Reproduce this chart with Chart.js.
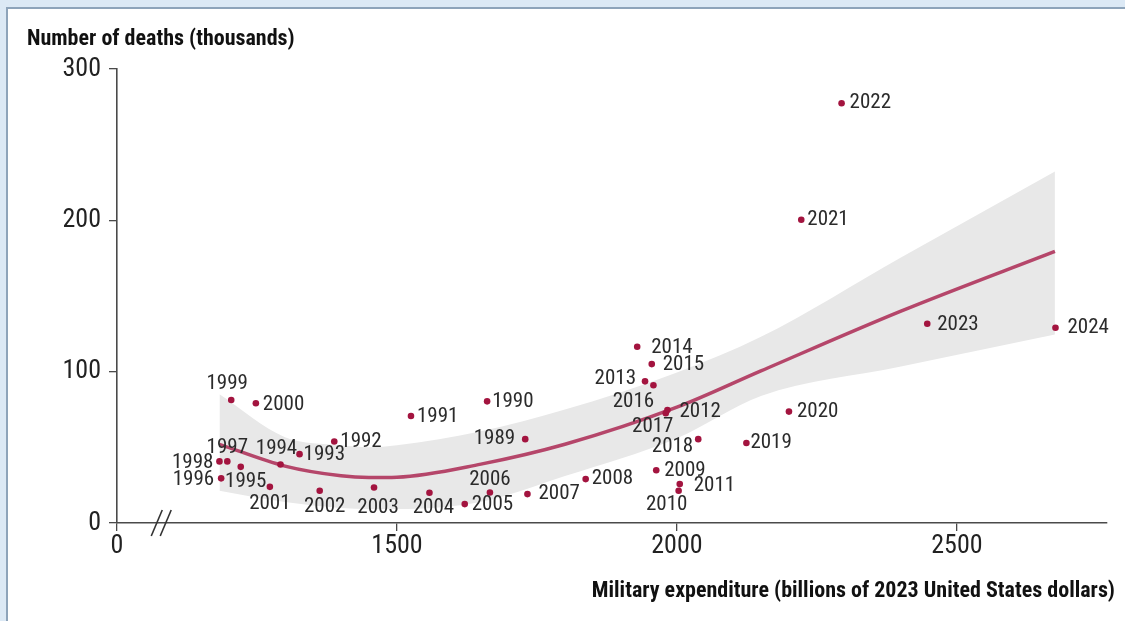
<!DOCTYPE html>
<html>
<head>
<meta charset="utf-8">
<title>Military expenditure and deaths</title>
<script src="https://cdn.jsdelivr.net/npm/chart.js@4.4.1/dist/chart.umd.min.js"></script>
<style>
  html, body { margin: 0; padding: 0; }
  body {
    width: 1125px; height: 621px; position: relative; overflow: hidden;
    background: #dce9f5;
    font-family: "Liberation Sans Narrow", "Arial Narrow", "Roboto Condensed", Roboto, sans-serif;
  }
  #panel {
    position: absolute; left: 6px; top: 7px; right: -10px; bottom: -10px;
    background: #fff; border: 2px solid #8ea4ba;
  }
  #chart { position: absolute; left: 0; top: 0; }
  .axis-title {
    position: absolute; font-weight: bold; font-size: 22px; color: #111;
    white-space: nowrap; line-height: 1;
  }
  #ytitle { left: 27px; top: 27px; }
  #xtitle { right: 10px; top: 579px; }
</style>
</head>
<body>
<div id="panel"></div>
<canvas id="chart" width="1125" height="621"></canvas>
<div id="ytitle" class="axis-title">Number of deaths (thousands)</div>
<div id="xtitle" class="axis-title">Military expenditure (billions of 2023 United States dollars)</div>

<script>
// Yearly observations: spending on the x axis, deaths on the y axis
const years = [1989, 1990, 1991, 1992, 1993, 1994, 1995, 1996, 1997, 1998, 1999, 2000,
  2001, 2002, 2003, 2004, 2005, 2006, 2007, 2008, 2009, 2010, 2011, 2012,
  2013, 2014, 2015, 2016, 2017, 2018, 2019, 2020, 2021, 2022, 2023, 2024];
const spending = [1729, 1661, 1525, 1388, 1326, 1292, 1221, 1186, 1197, 1183, 1204, 1248,
  1273, 1362, 1459, 1558, 1621, 1666, 1733, 1837, 1963, 2003, 2005, 1983,
  1943, 1929, 1955, 1958, 1980, 2038, 2124, 2200, 2222, 2294, 2447, 2676];
const deaths = [55.4, 80.4, 70.7, 53.9, 45.5, 38.7, 37.1, 29.5, 40.7, 40.7, 81.3, 79.1,
  23.9, 21.3, 23.5, 20.0, 12.5, 20.2, 19.1, 29.0, 34.9, 21.3, 25.7, 74.7,
  93.6, 116.5, 105.0, 91.0, 72.5, 55.4, 52.9, 73.6, 200.4, 277.4, 131.7, 129.0];

// Fitted trend and its confidence band
const trendX   = [1183, 1300, 1400, 1450, 1500, 1650, 1800, 2000, 2150, 2400, 2675];
const trendY   = [52.0, 37.6, 31.2, 30.1, 30.3, 38.9, 52.0, 76.5, 100.5, 140.0, 179.5];
const bandHigh = [85.0, 56.7, 51.4, 50.1, 51.4, 60.7, 75.0, 99.5, 123.0, 175.5, 232.3];
const bandLow  = [21.3, 13.8, 9.9, 9.2, 9.2, 14.0, 31.0, 56.0, 83.9, 103.4, 124.6];

// Axis ticks (the x axis is broken: its first tick stands for zero)
const xTickValues = [1000, 1500, 2000, 2500];
const xTickLabels = ['0', '1500', '2000', '2500'];
const yTickValues = [0, 100, 200, 300];

const narrow = '"Liberation Sans Narrow", "Arial Narrow", "Roboto Condensed", Roboto, sans-serif';
const axisColor = '#4a4a4a';

// where each year label sits relative to its dot: [align, dx, dy]
const labelPlacement = {
  1989: ['r', -10, 0], 1990: ['l', 5, 0], 1991: ['l', 6, 1], 1992: ['l', 6, 0],
  1993: ['l', 4, 1], 1994: ['c', -4, -16], 1995: ['c', 5, 15], 1996: ['r', -7, 1],
  1997: ['c', 0, -14], 1998: ['r', -6, 1], 1999: ['c', -4, -16], 2000: ['l', 7, 1],
  2001: ['c', 0, 17], 2002: ['c', 5, 16], 2003: ['c', 4, 20], 2004: ['c', 4, 15],
  2005: ['l', 7, 1], 2006: ['c', 0, -13], 2007: ['l', 11, 0], 2008: ['l', 6, 0],
  2009: ['l', 8, 1], 2010: ['c', -12, 14], 2011: ['l', 14, 2], 2012: ['l', 12, 2],
  2013: ['r', -9, -3], 2014: ['l', 14, 1], 2015: ['l', 11, 1], 2016: ['c', -20, 16],
  2017: ['c', -13, 13], 2018: ['r', -5, 8], 2019: ['l', 4, 0], 2020: ['l', 8, 0],
  2021: ['l', 6, 0], 2022: ['l', 8, 0], 2023: ['l', 10, 1], 2024: ['l', 12, 0]
};

const toPoints = (xs, ys) => xs.map((x, i) => ({ x: x, y: ys[i] }));

// Year text next to every dot
const yearLabels = {
  id: 'yearLabels',
  afterDatasetsDraw(chart) {
    const meta = chart.getDatasetMeta(3);
    const ctx = chart.ctx;
    ctx.save();
    ctx.font = '21px ' + narrow;
    ctx.fillStyle = '#2b2b2b';
    ctx.textBaseline = 'middle';
    meta.data.forEach((pt, i) => {
      const [align, dx, dy] = labelPlacement[years[i]] || ['l', 6, 0];
      ctx.textAlign = align === 'l' ? 'left' : align === 'r' ? 'right' : 'center';
      ctx.fillText(String(years[i]), pt.x + dx, pt.y + dy);
    });
    ctx.restore();
  }
};

// Two slashes across the x axis marking the gap between 0 and 1000
const axisBreak = {
  id: 'axisBreak',
  afterDraw(chart) {
    const { ctx, scales } = chart;
    const y0 = scales.y.getPixelForValue(0);
    ctx.save();
    ctx.strokeStyle = '#333';
    ctx.lineWidth = 1.6;
    [1071, 1087].forEach(v => {
      const cx = scales.x.getPixelForValue(v);
      ctx.beginPath();
      ctx.moveTo(cx - 5.5, y0 + 13);
      ctx.lineTo(cx + 5.5, y0 - 13);
      ctx.stroke();
    });
    ctx.restore();
  }
};

new Chart(document.getElementById('chart'), {
  type: 'scatter',
  data: {
    datasets: [
      {
        type: 'line',
        data: toPoints(trendX, bandHigh),
        borderWidth: 0,
        pointRadius: 0,
        backgroundColor: '#e8e8e8',
        fill: '+1',
        cubicInterpolationMode: 'monotone',
        order: 3
      },
      {
        type: 'line',
        data: toPoints(trendX, bandLow),
        borderWidth: 0,
        pointRadius: 0,
        fill: false,
        cubicInterpolationMode: 'monotone',
        order: 2
      },
      {
        type: 'line',
        data: toPoints(trendX, trendY),
        borderColor: '#b5466a',
        borderWidth: 3.5,
        pointRadius: 0,
        fill: false,
        cubicInterpolationMode: 'monotone',
        order: 1
      },
      {
        data: toPoints(spending, deaths),
        pointRadius: 3.3,
        pointBackgroundColor: '#a3143f',
        pointBorderWidth: 0,
        order: 0
      }
    ]
  },
  options: {
    responsive: false,
    animation: false,
    devicePixelRatio: 1,
    layout: { padding: { left: 57, top: 69, right: 18, bottom: 48 } },
    plugins: {
      legend: { display: false },
      tooltip: { enabled: false }
    },
    scales: {
      x: {
        type: 'linear',
        min: 1000,
        max: 2768,
        afterBuildTicks: s => { s.ticks = xTickValues.map(v => ({ value: v })); },
        afterFit: s => { s.height = 50; },
        border: { color: axisColor, width: 1.6 },
        grid: { drawOnChartArea: false, drawTicks: true, tickLength: 8, color: axisColor, lineWidth: 1.3 },
        ticks: {
          font: { family: narrow, size: 26 },
          color: '#222',
          padding: 0,
          maxRotation: 0,
          callback: v => xTickLabels[xTickValues.indexOf(v)]
        }
      },
      y: {
        min: 0,
        max: 300,
        afterBuildTicks: s => { s.ticks = yTickValues.map(v => ({ value: v })); },
        afterFit: s => { s.width = 60; },
        border: { color: axisColor, width: 1.6 },
        grid: { drawOnChartArea: false, drawTicks: true, tickLength: 8, color: axisColor, lineWidth: 1.3 },
        ticks: {
          font: { family: narrow, size: 26 },
          color: '#222',
          padding: 8
        }
      }
    }
  },
  plugins: [yearLabels, axisBreak]
});
</script>
</body>
</html>
